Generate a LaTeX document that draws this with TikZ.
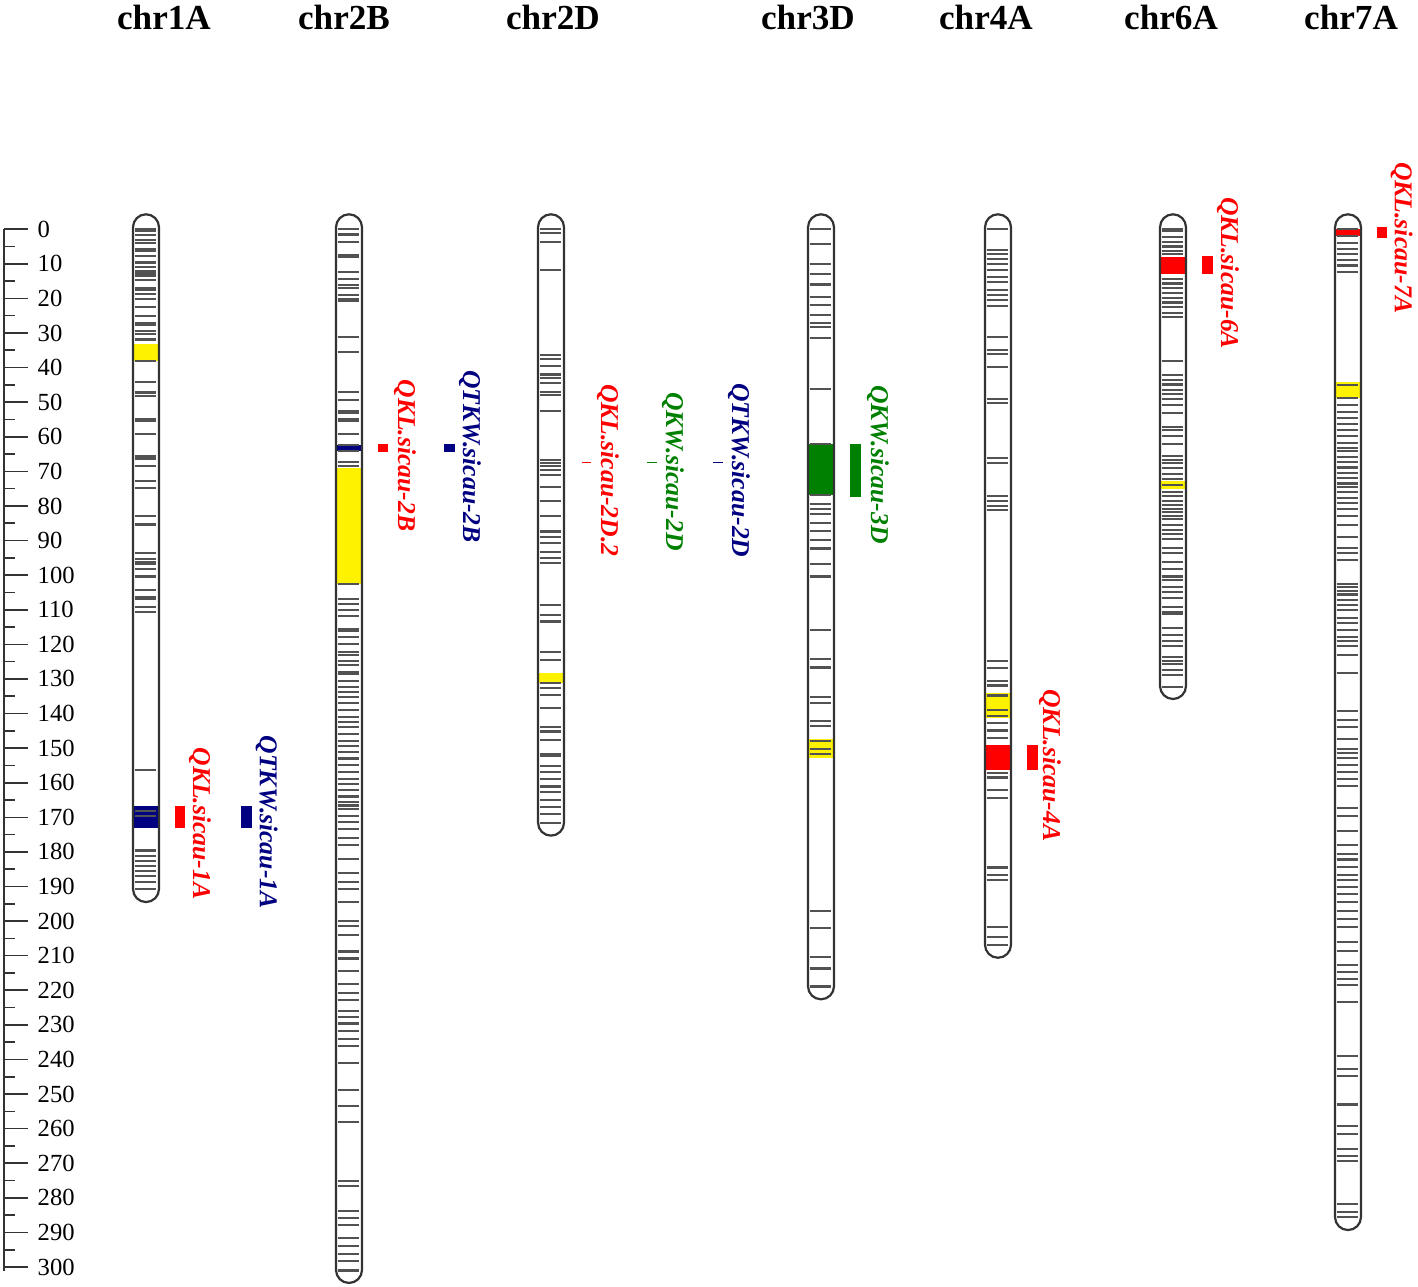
\documentclass[tikz,border=0pt]{standalone}
\usepackage{fontspec}
\setmainfont{Liberation Serif}
\usetikzlibrary{positioning}

\begin{document}
\begin{tikzpicture}[
	x=0.01cm, y=-0.03457cm,
	chrbox/.style={draw=black!80, line width=0.022cm, rounded corners=0.13cm},
	marker/.style={draw=black!68, line width=0.021cm},
	axisline/.style={draw=black!80, line width=0.016cm},
	scalenum/.style={anchor=west, inner sep=0pt, font=\fontsize{7}{8}\selectfont},
	chrtitle/.style={anchor=base, inner sep=0pt, font=\fontsize{10}{12}\selectfont\bfseries},
	qtllabel/.style={rotate=-90, inner sep=0pt, font=\fontsize{7.3}{8}\selectfont\bfseries\itshape},
	kl/.style={qtllabel, text=red},
	tkw/.style={qtllabel, text=navy},
	kw/.style={qtllabel, text=kwgreen}
	]
	\definecolor{navy}{RGB}{0,0,128}
	\definecolor{kwgreen}{RGB}{0,128,0}
	\useasboundingbox (0,-66.24) rectangle (1418,305.76);
	
	% scale
	\draw[axisline] (4,0) -- (4,301);
	\foreach \v in {0,10,...,300} {
		\draw[axisline] (4,\v) -- (28,\v);
		\node[scalenum] (s\v) at (37,\v) {\v};
	}
	\foreach \v in {5,15,...,295}
		\draw[axisline] (4,\v) -- (15,\v);
	
	% titles
	\node[chrtitle] (t1A) at (164,-57.6) {chr1A};
	\node[chrtitle] (t2B) at (344,-57.6) {chr2B};
	\node[chrtitle] (t2D) at (553,-57.6) {chr2D};
	\node[chrtitle] (t3D) at (808,-57.6) {chr3D};
	\node[chrtitle] (t4A) at (986,-57.6) {chr4A};
	\node[chrtitle] (t6A) at (1171,-57.6) {chr6A};
	\node[chrtitle] (t7A) at (1351,-57.6) {chr7A};
	
	% chr1A
	\fill[yellow] (133,33.3) rectangle (159,38.1);
	\fill[navy] (133,166.6) rectangle (159,173.2);
	\foreach \m in {0,0.5,1.6,3.2,4.0,5.8,6.4,7.8,9.5,9.9,10.9,12.1,12.6,13.4,14.8,16.9,17.6,18.8,20.3,22.5,25.2,27.1,27.7,29.5,30.2,31.9,38.1,44.3,47.2,48.3,54.8,55.4,59.3,65.7,66.3,68.5,72.9,74.8,83.0,85.3,85.6,93.5,95.3,96.2,96.7,98.2,100.4,104.2,106.4,106.9,109.1,110.6,156.2,168.1,169.7,179.6,181.1,182.5,184.2,185.4,186.9,188.8,190.7}
		\draw[marker] (134.5,\m) -- (156,\m);
	\draw[chrbox] (133,-4.3) rectangle (159,194.5);
	
	% chr2B
	\fill[navy] (336,62.3) rectangle (362,64.1);
	\fill[yellow] (336,69.0) rectangle (362,102.5);
	\foreach \m in {0,1.3,1.7,3.7,7.5,8.0,12.3,14.3,16.2,16.9,19.1,20.3,20.8,31.1,35.5,47.1,49.3,52.6,53.1,54.8,55.3,59.1,62.3,64.1,67.3,68.5,102.5,106.8,108.3,110.0,111.7,115.5,116.0,117.9,119.9,122.3,123.2,124.7,126.1,128.1,128.5,130.5,132.4,133.8,135.3,137,139,141,142.5,144,146,148,149.5,151,153,155,157,159,160.5,162,164,165.5,166.6,167.5,169.5,171.4,173.3,175.9,177.9,182,186.2,188.8,190.7,194.4,199.9,201.3,204,208.8,210.8,214.5,218.2,220.9,222.8,225.9,227.7,229.6,231.7,234.2,236.2,240.9,248.8,253.4,258,275.1,276.5,283.8,285.7,287.8,291.5,293.9,296.3,298.2,301}
		\draw[marker] (337.5,\m) -- (359,\m);
	\draw[chrbox] (336,-4.3) rectangle (362,304.6);
	
	% chr2D
	\fill[yellow] (538,128.4) rectangle (564,131.1);
	\foreach \m in {0,1.2,3.8,11.8,36.3,37.5,39.6,42,43,44.4,47.1,48,52.6,66.7,67.5,68.5,69.6,71.1,74.4,78.6,82.8,87.4,89.1,90.6,93.4,95.1,96.6,108.6,111.6,113.4,122.2,124.6,131.1,132.7,134.7,138.3,143.8,145.2,147.6,151.8,152.4,155.1,157,159,161.1,162.6,165,166.9,169,171.7}
		\draw[marker] (539.5,\m) -- (561,\m);
	\draw[chrbox] (538,-4.3) rectangle (564,175.3);
	
	% chr3D
	\fill[kwgreen] (808,62.2) rectangle (834,76.9);
	\fill[yellow] (808,147.3) rectangle (834,152.8);
	\foreach \m in {0,4.2,10.1,13,16,19.6,21.9,24.8,27,28.2,31.5,46.2,62.2,76.9,79.4,80.9,82.4,84.9,87.2,89.8,92.3,96.7,100.4,115.9,124.2,126.7,135.1,137,142.2,143.6,148,150.3,151.7,197,201.9,210.3,213.7,218.9}
		\draw[marker] (809.5,\m) -- (831,\m);
	\draw[chrbox] (808,-4.3) rectangle (834,222.6);
	
	% chr4A
	\fill[yellow] (985,134.1) rectangle (1011,141.3);
	\fill[red] (985,149.2) rectangle (1011,156.4);
	\foreach \m in {0,6,7.1,8.6,10,11.8,13.9,15.4,17.5,19,20.4,22.1,31.2,34.8,36.2,39.8,49.2,50.3,66.2,67.6,77.2,78.7,80.1,81.1,124.7,126.9,130.5,131.9,134.8,139.1,140.6,142.7,144.9,147,157.1,158.5,162.1,164.3,184.5,186.6,188.1,201.7,204.6,206.8}
		\draw[marker] (986.5,\m) -- (1008,\m);
	\draw[chrbox] (985,-4.3) rectangle (1011,210.6);
	
	% chr6A
	\fill[red] (1160,8.1) rectangle (1186,12.9);
	\fill[yellow] (1160,72.9) rectangle (1186,75.2);
	\foreach \m in {0,0.5,2.3,3.6,5.0,6.4,7.1,14.3,15.7,17.0,18.5,19.8,21.2,22.6,24.3,25.3,38.1,42.2,43.6,44.9,46.4,47.7,49.1,50.8,53.2,57.3,58.0,59.8,62.2,65.6,66.6,67.6,69.1,70.7,72.3,74.0,76.1,77.2,78.7,79.7,80.8,81.8,82.8,83.9,85.4,87.0,88.0,89.5,92.1,93.7,96.3,98.3,100.4,101.4,103.5,105.0,106.6,109.2,110.7,111.2,115.4,117.4,119.0,120.5,123.6,124.7,125.7,127.3,128.8,132.4}
		\draw[marker] (1161.5,\m) -- (1183,\m);
	\draw[chrbox] (1160,-4.3) rectangle (1186,135.8);
	
	% chr7A
	\fill[red] (1335,0) rectangle (1361,2);
	\fill[yellow] (1335,44.3) rectangle (1361,48.7);
	\foreach \m in {0,2,4.0,5.7,7.1,8.8,10.5,12.3,45.0,48.7,50.8,52.9,54.6,56.3,58.0,59.8,61.7,63.2,64.2,65.8,67.3,68.9,70.4,72.0,73.5,74.6,76.1,77.7,79.2,80.8,82.8,85.4,89.0,92.1,93.7,95.7,102.5,103.5,104.5,105.6,107.1,108.7,110.2,112.3,113.8,115.9,118.0,119.0,120.5,123.1,128.3,139.3,141.9,144.0,147.4,150.2,151.5,152.8,154.8,156.9,159.0,161.0,167.2,169.5,174.0,178.1,180.7,182.2,184.3,186.7,188.2,190.2,192.2,194.6,197.2,199.5,201.8,206.0,208.6,212.7,214.8,216.8,218.4,223.5,239.0,242.7,244.7,253.0,259.2,261.6,265.9,268.0,269.3,281.9,284.0,285.5}
		\draw[marker] (1336.5,\m) -- (1358,\m);
	\draw[chrbox] (1335,-4.3) rectangle (1361,289.3);
	
	% QTL bars
	\fill[red] (175,166.6) rectangle (185,173.2);
	\fill[navy] (240.5,166.6) rectangle (251.5,173.2);
	\fill[red] (378,62.0) rectangle (388,64.5);
	\fill[navy] (444,62.0) rectangle (455,64.5);
	\fill[red] (582,67.2) rectangle (591,67.7);
	\fill[kwgreen] (647,67.2) rectangle (657,67.7);
	\fill[navy] (713,67.2) rectangle (723,67.7);
	\fill[kwgreen] (850,62.2) rectangle (861,77.3);
	\fill[red] (1027,149.2) rectangle (1038,156.4);
	\fill[red] (1202,7.9) rectangle (1213,13.1);
	\fill[red] (1377,-0.5) rectangle (1387,2.5);
	
	% QTL names
	\node[kl] (kl1A) at (200,171.8) {QKL.sicau-1A};
	\node[tkw] (tkw1A) at (266.7,171.4) {QTKW.sicau-1A};
	\node[kl] (kl2B) at (405,65.4) {QKL.sicau-2B};
	\node[tkw] (tkw2B) at (470,65.7) {QTKW.sicau-2B};
	\node[kl] (kl2D) at (608,69.7) {QKL.sicau-2D.2};
	\node[kw] (kw2D) at (673,70.0) {QKW.sicau-2D};
	\node[tkw] (tkw2D) at (739,69.7) {QTKW.sicau-2D};
	\node[kw] (kw3D) at (878,68.0) {QKW.sicau-3D};
	\node[kl] (kl4A) at (1050,155) {QKL.sicau-4A};
	\node[kl] (kl6A) at (1228,12.7) {QKL.sicau-6A};
	\node[kl] (kl7A) at (1401.7,2.6) {QKL.sicau-7A};
\end{tikzpicture}
\end{document}
